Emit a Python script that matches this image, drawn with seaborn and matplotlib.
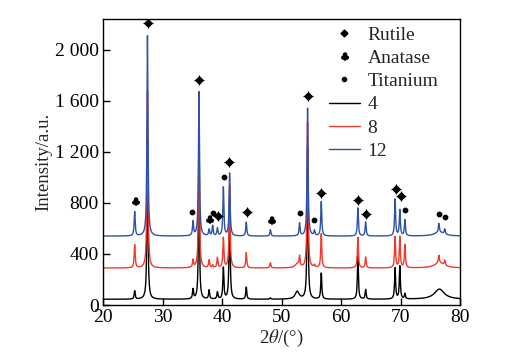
import numpy as np
import pandas as pd
import matplotlib
matplotlib.use("Agg")
import matplotlib.pyplot as plt
from matplotlib.lines import Line2D
from matplotlib.textpath import TextPath
from matplotlib.font_manager import FontProperties
from matplotlib.path import Path
import seaborn as sns

# ------------------ DATA ------------------
# peak positions (2theta, degrees), shared by all three patterns
peak_pos = [25.3, 27.45, 35.1, 36.1, 37.8, 38.4, 39.2, 40.2, 41.25, 44.05, 48.1,
            53.0, 54.35, 55.5, 56.65, 62.8, 64.1, 69.05, 69.85, 70.7, 76.4, 77.4]
# peak heights above baseline for each sample
heights_4 = [65, 1250, 75, 1000, 70, 0, 55, 245, 800, 95, 10,
             0, 1200, 0, 205, 335, 75, 245, 260, 40, 0, 0]
heights_8 = [180, 1400, 60, 1050, 60, 20, 80, 235, 650, 120, 40,
             80, 1150, 20, 270, 240, 85, 245, 245, 180, 60, 40]
heights_12 = [190, 1585, 110, 1130, 50, 80, 60, 380, 495, 110, 50,
              100, 1010, 40, 270, 220, 110, 290, 205, 125, 70, 40]
# broad humps (position, height, width)
humps_4 = [(52.6, 60, 0.4), (76.5, 80, 1.0)]
humps_8 = [(52.6, 30, 0.4), (76.5, 40, 1.0)]
humps_12 = [(76.5, 30, 1.0)]
baselines = {"4": 45, "8": 290, "12": 540}

# phase markers: (2theta, intensity where the symbol sits)
rutile_x = [27.5, 36.1, 39.3, 41.2, 44.1, 54.4, 56.6, 62.9, 64.2, 69.2, 70.0]
rutile_y = [2210, 1760, 700, 1120, 730, 1640, 880, 820, 710, 910, 855]
anatase_x = [25.4, 37.8, 48.2]
anatase_y = [815, 675, 665]
titanium_x = [35.0, 38.4, 40.3, 53.0, 55.5, 70.8, 76.4, 77.5]
titanium_y = [730, 720, 1005, 720, 665, 745, 715, 690]

series_names = ["4", "8", "12"]
colors = {"4": "#000000", "8": "#f03a2a", "12": "#2f52a8"}

# ------------------ BUILD PATTERNS ------------------
two_theta = np.arange(20, 80.001, 0.02)


def pattern(base, heights, humps):
    y = np.full_like(two_theta, float(base))
    for p, h in zip(peak_pos, heights):
        y += h / (1 + ((two_theta - p) / 0.1) ** 2)
    for p, h, w in humps:
        y += h / (1 + ((two_theta - p) / w) ** 2)
    return y


frames = []
for name, hts, hum in [("4", heights_4, humps_4), ("8", heights_8, humps_8),
                       ("12", heights_12, humps_12)]:
    frames.append(pd.DataFrame({"two_theta": two_theta,
                                "intensity": pattern(baselines[name], hts, hum),
                                "sample": name}))
df = pd.concat(frames, ignore_index=True)

# club symbol as a marker path (centred)
tp = TextPath((0, 0), "\u2663", size=1, prop=FontProperties(family="DejaVu Sans"))
verts = tp.vertices.copy()
verts -= (verts.min(axis=0) + verts.max(axis=0)) / 2
club = Path(verts, tp.codes)

# ------------------ PLOT ------------------
sns.set_theme(style="ticks")
plt.rcParams["font.family"] = ["Liberation Serif", "DejaVu Serif"]
plt.rcParams["mathtext.fontset"] = "stix"

fig = plt.figure(figsize=(5.08, 3.61), dpi=100)
ax = fig.add_axes([0.203, 0.155, 0.703, 0.792])

sns.lineplot(data=df, x="two_theta", y="intensity", hue="sample",
             hue_order=series_names, palette=colors, linewidth=1.0,
             legend=False, ax=ax, sort=False, estimator=None)

ax.scatter(rutile_x, rutile_y, marker="D", s=14, color="black", zorder=5)
ax.scatter(rutile_x, rutile_y, marker="+", s=45, color="black", linewidth=0.8, zorder=5)
ax.scatter(anatase_x, anatase_y, marker=club, s=30, color="black", zorder=5)
ax.scatter(titanium_x, titanium_y, marker="o", s=10, color="black", zorder=5)

ax.set_xlim(20, 80)
ax.set_ylim(0, 2240)
ax.set_xticks(range(20, 81, 10))
ax.set_yticks([0, 400, 800, 1200, 1600, 2000])
ax.set_yticklabels(["0", "400", "800", "1 200", "1 600", "2 000"])
ax.tick_params(direction="in", length=5, width=1, labelsize=14, colors="black",
               top=False, right=False, pad=3)
for sp in ax.spines.values():
    sp.set_visible(True)
    sp.set_linewidth(1)
    sp.set_color("black")

ax.set_xlabel(r"2$\theta$/(°)", fontsize=13.5, labelpad=1)
ax.set_ylabel("Intensity/a.u.", fontsize=13.5, labelpad=2)

handles = [
    Line2D([], [], marker="D", markersize=3.5, color="black", linestyle="none"),
    Line2D([], [], marker=club, markersize=5.5, color="black", linestyle="none"),
    Line2D([], [], marker="o", markersize=3, color="black", linestyle="none"),
    Line2D([], [], color=colors["4"], linewidth=1.0),
    Line2D([], [], color=colors["8"], linewidth=1.0),
    Line2D([], [], color=colors["12"], linewidth=1.0),
]
labels = ["Rutile", "Anatase", "Titanium", "4", "8", "12"]
ax.legend(handles, labels, loc="upper left", frameon=False, fontsize=14,
          handlelength=1.6, handletextpad=0.4, labelspacing=0.29,
          borderaxespad=0, bbox_to_anchor=(0.61, 1.003))

plt.savefig("out.png", dpi=100)
